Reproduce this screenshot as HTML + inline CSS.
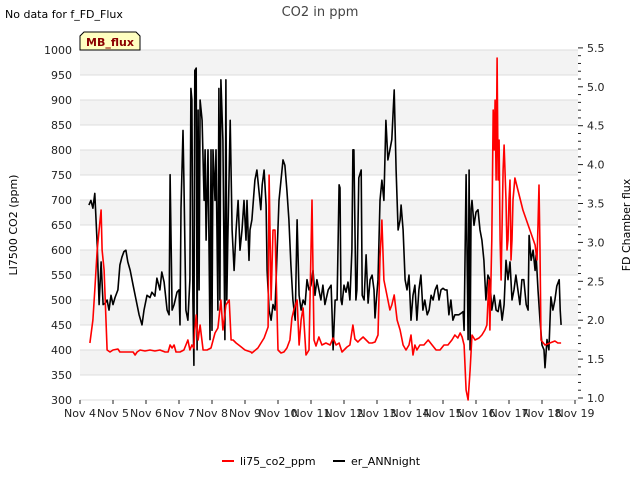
<!DOCTYPE html>
<html><head><meta charset="utf-8"><style>
body{margin:0;background:#fff;font-family:"Liberation Sans","DejaVu Sans",sans-serif;}
svg text{font-family:"DejaVu Sans","Liberation Sans",sans-serif;}
</style></head><body>
<svg id="c" width="640" height="480" viewBox="0 0 640 480">
<text x="5" y="18" font-size="11" fill="#000">No data for f_FD_Flux</text>
<text x="320" y="16" font-size="13" fill="#444" text-anchor="middle">CO2 in ppm</text>
<g id="grid"></g>
<g id="series"></g>
<g id="axes"></g>
<g>
<path d="M80,50 L80,36 L84,32 L136,32 L140,36 L140,50 Z" fill="#ffffc0" stroke="#000" stroke-width="1"/>
<text x="110" y="46" font-size="11" font-weight="bold" fill="#8b0000" text-anchor="middle">MB_flux</text>
</g>
<text transform="translate(17,225) rotate(-90)" font-size="11" text-anchor="middle">LI7500 CO2 (ppm)</text>
<text transform="translate(630,225) rotate(-90)" font-size="11" text-anchor="middle">FD Chamber flux</text>
<g>
<g><line x1="222" y1="461" x2="234" y2="461" stroke="#f00" stroke-width="2"/><text x="240" y="465" font-size="11">li75_co2_ppm</text></g>
<g><line x1="333" y1="461" x2="345" y2="461" stroke="#000" stroke-width="2"/><text x="351" y="465" font-size="11">er_ANNnight</text></g>
</g>
</svg>
<script>
const xTickLabels=["Nov 4","Nov 5","Nov 6","Nov 7","Nov 8","Nov 9","Nov 10","Nov 11","Nov 12","Nov 13","Nov 14","Nov 15","Nov 16","Nov 17","Nov 18","Nov 19"];
const leftTicks=[300,350,400,450,500,550,600,650,700,750,800,850,900,950,1000];
const rightTicks=[1.0,1.5,2.0,2.5,3.0,3.5,4.0,4.5,5.0,5.5];
const blackDays=[0.27,0.33,0.39,0.45,0.52,0.58,0.64,0.70,0.76,0.82,0.88,0.94,1.00,1.06,1.15,1.21,1.27,1.33,1.39,1.45,1.52,1.61,1.70,1.79,1.88,1.94,2.03,2.12,2.18,2.27,2.33,2.42,2.48,2.55,2.64,2.70,2.73,2.79,2.85,2.94,3.00,3.03,3.06,3.12,3.15,3.21,3.27,3.33,3.36,3.39,3.42,3.45,3.48,3.52,3.55,3.58,3.61,3.64,3.70,3.76,3.79,3.82,3.88,3.94,3.97,4.00,4.03,4.09,4.12,4.18,4.21,4.24,4.27,4.33,4.39,4.42,4.45,4.48,4.55,4.61,4.67,4.73,4.79,4.85,4.91,4.97,5.03,5.06,5.12,5.15,5.21,5.30,5.36,5.42,5.48,5.52,5.58,5.64,5.67,5.73,5.79,5.85,5.91,5.97,6.03,6.09,6.15,6.21,6.27,6.33,6.39,6.45,6.52,6.58,6.64,6.70,6.76,6.82,6.88,6.94,7.00,7.06,7.12,7.18,7.24,7.30,7.36,7.42,7.52,7.61,7.64,7.67,7.73,7.79,7.85,7.88,7.91,7.94,8.00,8.06,8.12,8.18,8.24,8.27,8.30,8.36,8.39,8.45,8.52,8.55,8.61,8.67,8.73,8.79,8.85,8.91,8.94,8.97,9.03,9.09,9.15,9.21,9.27,9.33,9.39,9.45,9.52,9.58,9.64,9.70,9.73,9.79,9.85,9.91,9.97,10.03,10.09,10.15,10.21,10.27,10.33,10.39,10.45,10.52,10.58,10.64,10.70,10.76,10.82,10.88,10.94,11.00,11.06,11.12,11.18,11.24,11.30,11.36,11.42,11.48,11.55,11.61,11.64,11.70,11.76,11.79,11.82,11.85,11.88,11.94,12.00,12.06,12.12,12.18,12.24,12.30,12.36,12.42,12.48,12.55,12.61,12.67,12.73,12.79,12.85,12.91,12.97,13.03,13.09,13.15,13.21,13.27,13.33,13.39,13.45,13.52,13.58,13.61,13.67,13.73,13.79,13.82,13.88,13.94,14.00,14.06,14.09,14.15,14.21,14.27,14.33,14.39,14.45,14.52,14.55,14.58];
const blackFlux=[3.48,3.54,3.44,3.63,2.97,2.20,2.75,2.20,2.22,2.26,2.13,2.32,2.20,2.29,2.39,2.71,2.81,2.88,2.90,2.75,2.64,2.45,2.26,2.07,1.94,2.13,2.32,2.29,2.36,2.31,2.54,2.39,2.62,2.49,2.13,2.07,3.87,2.13,2.20,2.36,2.39,1.94,3.44,4.44,3.80,2.13,2.00,2.52,4.98,4.83,2.26,1.42,5.21,5.24,1.62,4.70,2.39,4.83,4.57,3.54,4.19,3.03,4.19,1.75,4.19,1.87,4.19,3.54,4.19,2.13,4.98,2.26,5.09,4.32,1.75,5.09,2.26,3.03,4.57,3.16,2.64,3.16,3.54,2.90,3.16,3.54,3.03,3.54,2.77,3.16,3.29,3.80,3.93,3.67,3.42,3.74,3.93,3.48,2.64,2.13,2.00,2.20,2.13,2.84,3.54,3.80,4.06,3.99,3.67,3.29,2.71,2.26,2.00,3.29,2.32,2.13,2.26,2.20,2.52,2.39,2.45,2.64,2.32,2.52,2.39,2.26,2.45,2.20,2.39,2.45,2.07,1.62,2.26,2.26,3.74,3.70,2.26,2.20,2.45,2.36,2.49,2.26,2.90,4.19,4.19,2.26,2.39,3.83,3.93,2.32,2.26,2.84,2.22,2.52,2.58,2.39,2.03,2.20,2.52,3.54,3.80,3.54,4.57,4.06,4.19,4.32,4.96,3.93,3.16,3.29,3.48,3.16,2.52,2.39,2.58,2.00,2.32,2.45,2.00,2.39,2.58,2.13,2.26,2.07,2.13,2.32,2.26,2.39,2.45,2.26,2.39,2.41,2.39,2.39,2.07,2.26,2.00,2.07,2.07,2.07,2.09,2.11,1.87,3.87,1.75,3.93,1.62,3.43,3.54,3.22,3.39,3.42,3.16,3.03,2.77,2.26,2.58,2.52,2.13,2.32,2.13,2.11,2.26,2.00,2.20,2.77,2.52,2.75,2.26,2.39,2.58,2.39,2.20,2.52,2.52,2.20,2.13,3.09,2.77,2.90,2.64,2.84,2.39,2.00,1.68,1.62,1.39,1.75,1.62,2.30,2.13,2.26,2.44,2.52,2.13,1.94];
const redDays=[0.30,0.39,0.45,0.52,0.58,0.64,0.67,0.73,0.82,0.91,1.00,1.15,1.21,1.36,1.45,1.61,1.67,1.73,1.82,1.97,2.12,2.27,2.42,2.58,2.67,2.73,2.79,2.85,2.91,3.03,3.15,3.21,3.27,3.33,3.39,3.45,3.48,3.52,3.58,3.64,3.73,3.85,3.97,4.09,4.18,4.27,4.33,4.42,4.52,4.58,4.64,4.73,4.85,5.00,5.18,5.21,5.39,5.58,5.70,5.73,5.79,5.85,5.91,6.00,6.09,6.18,6.27,6.36,6.42,6.48,6.58,6.64,6.70,6.76,6.85,6.94,7.03,7.09,7.15,7.24,7.33,7.45,7.58,7.67,7.76,7.85,7.94,8.03,8.09,8.18,8.27,8.33,8.42,8.48,8.58,8.67,8.76,8.85,8.94,9.03,9.09,9.15,9.21,9.27,9.33,9.39,9.45,9.52,9.61,9.70,9.79,9.88,9.97,10.03,10.09,10.15,10.21,10.30,10.42,10.55,10.67,10.79,10.91,11.03,11.15,11.27,11.36,11.45,11.52,11.58,11.64,11.70,11.76,11.82,11.88,11.97,12.09,12.18,12.27,12.33,12.39,12.42,12.48,12.52,12.55,12.58,12.61,12.64,12.67,12.70,12.73,12.76,12.82,12.85,12.91,12.94,12.97,13.00,13.03,13.06,13.09,13.12,13.18,13.42,13.79,13.85,13.88,13.91,13.94,13.97,14.09,14.24,14.39,14.48,14.58];
const redPpm=[414,460,520,600,640,680,600,560,400,396,400,402,396,396,396,396,390,396,400,398,400,398,400,396,396,410,404,410,396,396,400,410,420,400,410,404,440,470,420,450,400,400,404,434,444,500,440,490,500,420,420,414,408,400,396,394,404,424,446,750,500,640,640,400,394,396,404,420,464,480,500,410,460,484,390,400,700,420,408,426,410,414,410,424,410,414,396,402,406,410,450,422,416,420,426,420,414,414,416,430,584,660,540,520,500,480,490,510,460,440,410,400,410,430,390,410,400,410,410,420,410,400,400,410,410,420,430,424,434,426,410,320,300,360,430,420,424,430,440,450,540,440,620,880,800,900,740,984,740,820,620,540,760,810,700,600,620,700,740,580,620,700,744,680,610,580,650,730,600,420,410,414,418,414,414];

const NS="http://www.w3.org/2000/svg";
const X0=80,X1=578,Y0=50,Y1=400;
const xs=d=>X0+d*33;
const yL=v=>Y1-(v-300)*(Y1-Y0)/700;
const yR=v=>398-(v-1)*77.8;
function mk(tag,attrs,parent){const e=document.createElementNS(NS,tag);for(const k in attrs)e.setAttribute(k,attrs[k]);parent.appendChild(e);return e;}
const grid=document.getElementById('grid'),axes=document.getElementById('axes'),series=document.getElementById('series');
for(let i=0;i<leftTicks.length-1;i++){
  if(i%2===1){const r=mk('rect',{x:X0,y:yL(leftTicks[i+1]),width:X1-X0,height:yL(leftTicks[i])-yL(leftTicks[i+1]),fill:'#f3f3f3'},grid);
  
  }
}
leftTicks.forEach(v=>{
  const l=mk('line',{x1:X0,x2:X1,y1:yL(v),y2:yL(v),stroke:'#ddd','stroke-width':1},grid);
  
  
  const t=mk('text',{x:72,y:yL(v)+4,'font-size':11,'text-anchor':'end',fill:'#222'},axes);
  t.textContent=v;
  
  
});
rightTicks.forEach(v=>{
  const t=mk('text',{x:587,y:yR(v)+4,'font-size':11,fill:'#222'},axes);
  t.textContent=v.toFixed(1);
  
  
});
for(let k=0;k<=45;k++){
  const v=1+k*0.1;
  const l=mk('line',{x1:578,x2:k%5===0?583:581,y1:yR(v),y2:yR(v),stroke:'#222','stroke-width':1},axes);
  
  
}
xTickLabels.forEach((s,i)=>{
  const l=mk('line',{x1:xs(i),x2:xs(i),y1:Y1,y2:Y1+4,stroke:'#222'},axes);
  
  
  const t=mk('text',{x:xs(i),y:417,'font-size':11,'text-anchor':'middle',fill:'#222'},axes);
  t.textContent=s;
  
  
});
const pb=mk('polyline',{points:blackDays.map((d,i)=>xs(d).toFixed(1)+','+yR(blackFlux[i]).toFixed(1)).join(' '),fill:'none',stroke:'#000','stroke-width':1.6,'stroke-linejoin':'round'},series);


const pr=mk('polyline',{points:redDays.map((d,i)=>xs(d).toFixed(1)+','+yL(redPpm[i]).toFixed(1)).join(' '),fill:'none',stroke:'#f00','stroke-width':1.6,'stroke-linejoin':'round'},series);


</script>
</body></html>
